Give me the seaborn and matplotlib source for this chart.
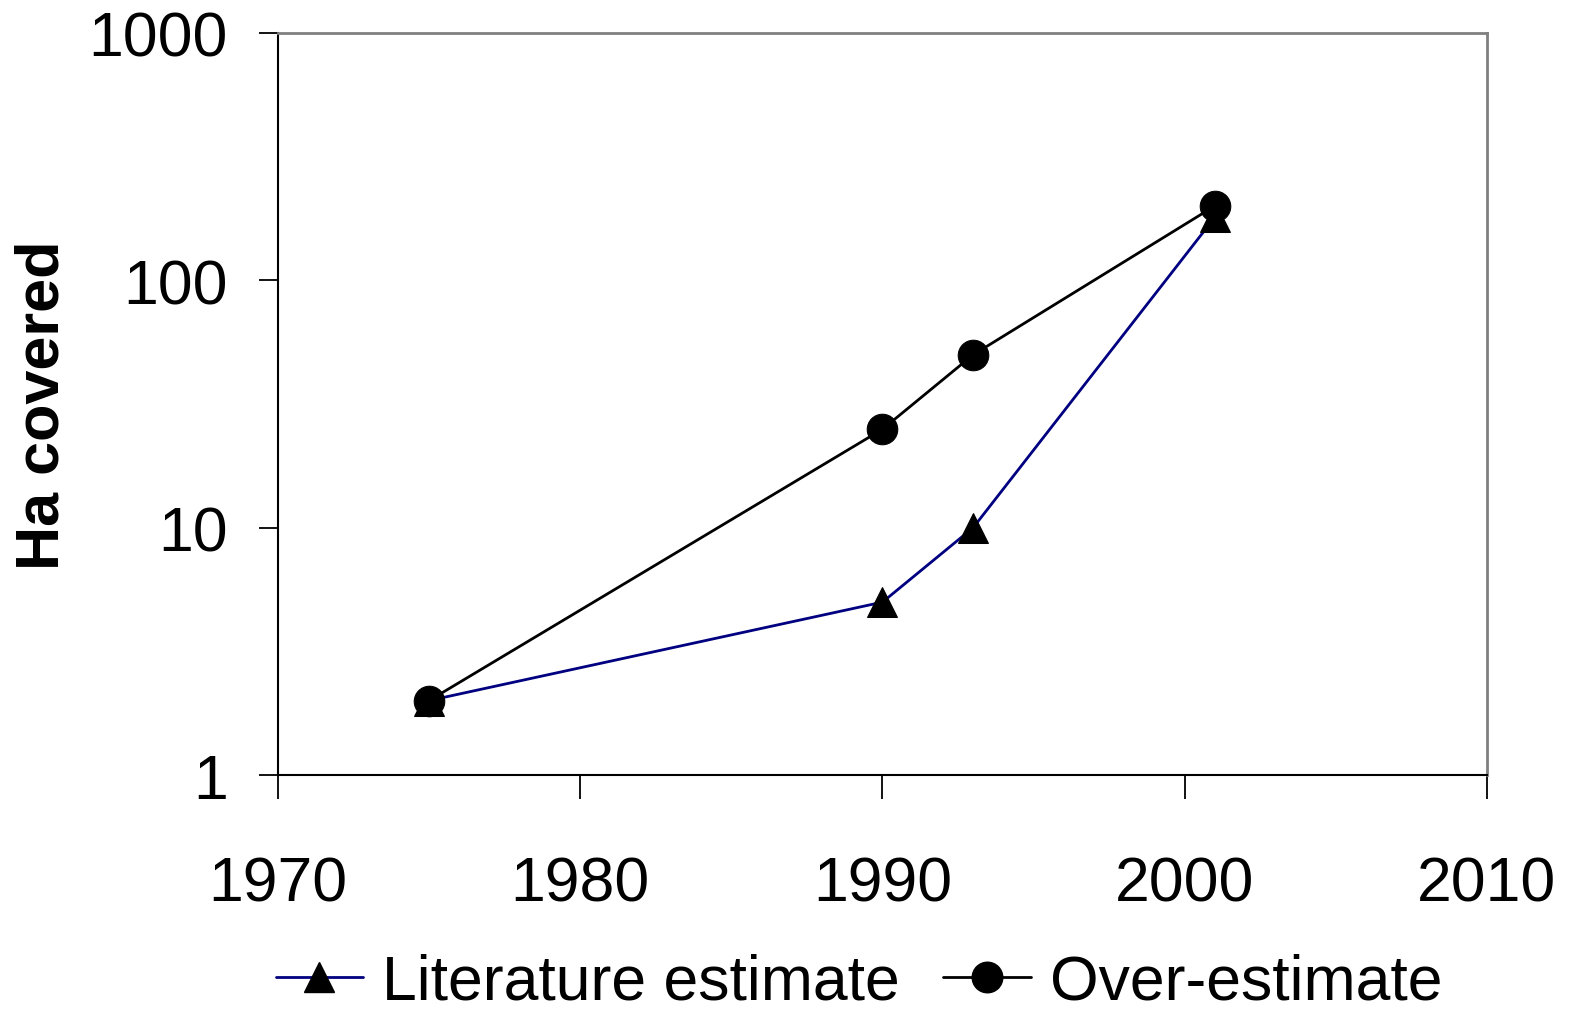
import seaborn as sns
import pandas as pd
import numpy as np
import matplotlib.pyplot as plt
from matplotlib.lines import Line2D

sns.set_style("white")
plt.rcParams['font.family'] = ['Liberation Sans', 'DejaVu Sans']
plt.rcParams['text.color'] = 'black'
plt.rcParams['xtick.color'] = 'black'
plt.rcParams['ytick.color'] = 'black'
plt.rcParams['axes.labelcolor'] = 'black'

years = [1975, 1990, 1993, 2001]
literature = [2, 5, 10, 180]
over = [2, 25, 50, 200]
series_names = ["Literature estimate", "Over-estimate"]

df = pd.DataFrame({
    "year": years * 2,
    "ha": literature + over,
    "series": [series_names[0]] * 4 + [series_names[1]] * 4,
})

fig = plt.figure(figsize=(15.76, 10.2), dpi=100)
ax = fig.add_axes([0.1764, 0.2392, 0.9435 - 0.1764, 0.9667 - 0.2392])

sns.lineplot(data=df, x="year", y="ha", hue="series", style="series",
             palette={series_names[0]: "#000080", series_names[1]: "black"},
             markers={series_names[0]: "^", series_names[1]: "o"},
             dashes=False, markersize=22, linewidth=2,
             markerfacecolor="black", markeredgecolor="black",
             ax=ax, legend=False, zorder=3)

ax.set_yscale("log")
ax.set_ylim(1, 1000)
ax.set_xlim(1970, 2010)
ax.set_xticks([1970, 1980, 1990, 2000, 2010])
ax.set_yticks([1, 10, 100, 1000])
ax.set_yticklabels(["1", "10", "100", "1000"])
ax.minorticks_off()
ax.tick_params(axis="both", labelsize=45, width=1.3, color="black",
               direction="out", left=True, bottom=True)
ax.tick_params(axis="x", length=17, pad=40)
ax.tick_params(axis="y", length=14, pad=22)
ax.set_xlabel("")
ax.set_ylabel("Ha covered", fontsize=44, fontweight="bold", labelpad=12)

for s in ["left", "bottom"]:
    ax.spines[s].set_color("black")
    ax.spines[s].set_linewidth(1.5)
for s in ["top", "right"]:
    ax.spines[s].set_color("#808080")
    ax.spines[s].set_linewidth(2)

handles = [
    Line2D([], [], color="#000080", marker="^", markersize=22, linewidth=2,
           markerfacecolor="black", markeredgecolor="black"),
    Line2D([], [], color="black", marker="o", markersize=22, linewidth=2,
           markerfacecolor="black", markeredgecolor="black"),
]
fig.legend(handles, series_names, loc="lower center", ncol=2, frameon=False,
           fontsize=45, bbox_to_anchor=(0.545, -0.048), handlelength=1.4,
           handletextpad=0.3, columnspacing=0.7)

fig.savefig("out.png", dpi=100)
